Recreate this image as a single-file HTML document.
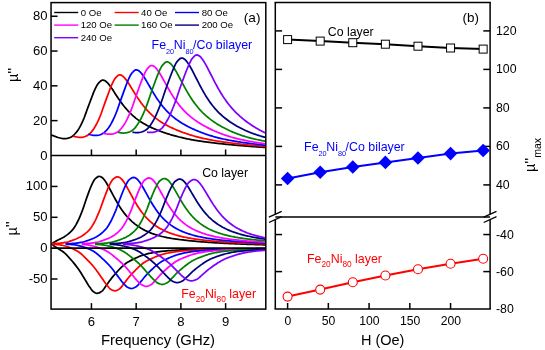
<!DOCTYPE html>
<html><head><meta charset="utf-8"><title>Figure</title>
<style>html,body{margin:0;padding:0;background:#fff;}svg{display:block;will-change:transform;}</style>
</head><body>
<svg width="545" height="350" viewBox="0 0 545 350" font-family="'Liberation Sans', Arial, Helvetica, sans-serif">
<rect x="0" y="0" width="545" height="350" fill="#ffffff"/>
<defs>
<clipPath id="cu"><rect x="51.05" y="2.60" width="214.75" height="152.83"/></clipPath>
<clipPath id="cl"><rect x="51.05" y="155.43" width="214.75" height="153.67"/></clipPath>
</defs>
<g clip-path="url(#cu)" fill="none" stroke-width="1.75" stroke-linejoin="round" stroke-linecap="butt">
<path d="M51.05,135.07 L52.05,135.37 L53.05,135.68 L54.05,136.03 L55.05,136.41 L56.05,136.80 L57.05,137.17 L58.05,137.49 L59.05,137.75 L60.05,138.00 L61.05,138.24 L62.05,138.46 L63.05,138.61 L64.05,138.69 L65.05,138.67 L66.05,138.56 L67.05,138.37 L68.05,138.12 L69.05,137.82 L70.05,137.48 L71.05,137.09 L72.05,136.49 L73.05,135.70 L74.05,134.77 L75.05,133.75 L76.05,132.67 L77.05,131.41 L78.05,129.95 L79.05,128.34 L80.05,126.63 L81.05,124.73 L82.05,122.65 L83.05,120.42 L84.05,118.05 L85.05,115.41 L86.05,112.61 L87.05,109.80 L88.05,107.11 L89.05,104.44 L90.05,101.78 L91.05,99.16 L92.05,96.53 L93.05,93.85 L94.05,91.30 L95.05,89.10 L96.05,87.06 L97.05,85.18 L98.05,83.66 L99.05,82.57 L100.05,81.57 L101.05,80.72 L102.05,80.17 L103.05,80.06 L104.05,80.29 L105.05,80.78 L106.05,81.49 L107.05,82.40 L108.05,83.47 L109.05,84.68 L110.05,85.99 L111.05,87.39 L112.05,88.84 L113.05,90.34 L114.05,91.87 L115.05,93.40 L116.05,94.93 L117.05,96.45 L118.05,97.95 L119.05,99.42 L120.05,100.86 L121.05,102.26 L122.05,103.62 L123.05,104.94 L124.05,106.22 L125.05,107.46 L126.05,108.65 L127.05,109.80 L128.05,110.91 L129.05,111.97 L130.05,113.00 L131.05,113.98 L132.05,114.93 L133.05,115.83 L134.05,116.70 L135.05,117.54 L136.05,118.35 L137.05,119.12 L138.05,119.86 L139.05,120.57 L140.05,121.26 L141.05,121.92 L142.05,122.55 L143.05,123.17 L144.05,123.76 L145.05,124.33 L146.05,124.88 L147.05,125.41 L148.05,125.93 L149.05,126.43 L150.05,126.91 L151.05,127.38 L152.05,127.84 L153.05,128.29 L154.05,128.72 L155.05,129.14 L156.05,129.55 L157.05,129.96 L158.05,130.35 L159.05,130.74 L160.05,131.11 L161.05,131.48 L162.05,131.84 L163.05,132.20 L164.05,132.55 L165.05,132.89 L166.05,133.22 L167.05,133.55 L168.05,133.87 L169.05,134.18 L170.05,134.49 L171.05,134.79 L172.05,135.09 L173.05,135.38 L174.05,135.66 L175.05,135.94 L176.05,136.21 L177.05,136.47 L178.05,136.73 L179.05,136.99 L180.05,137.23 L181.05,137.47 L182.05,137.71 L183.05,137.94 L184.05,138.16 L185.05,138.38 L186.05,138.59 L187.05,138.80 L188.05,139.00 L189.05,139.20 L190.05,139.39 L191.05,139.58 L192.05,139.77 L193.05,139.94 L194.05,140.12 L195.05,140.29 L196.05,140.46 L197.05,140.62 L198.05,140.78 L199.05,140.94 L200.05,141.09 L201.05,141.24 L202.05,141.39 L203.05,141.53 L204.05,141.67 L205.05,141.81 L206.05,141.95 L207.05,142.08 L208.05,142.21 L209.05,142.34 L210.05,142.47 L211.05,142.59 L212.05,142.72 L213.05,142.84 L214.05,142.96 L215.05,143.07 L216.05,143.19 L217.05,143.30 L218.05,143.42 L219.05,143.53 L220.05,143.64 L221.05,143.74 L222.05,143.85 L223.05,143.96 L224.05,144.06 L225.05,144.16 L226.05,144.26 L227.05,144.36 L228.05,144.46 L229.05,144.56 L230.05,144.66 L231.05,144.75 L232.05,144.84 L233.05,144.94 L234.05,145.03 L235.05,145.12 L236.05,145.21 L237.05,145.30 L238.05,145.39 L239.05,145.47 L240.05,145.56 L241.05,145.64 L242.05,145.73 L243.05,145.81 L244.05,145.89 L245.05,145.97 L246.05,146.05 L247.05,146.13 L248.05,146.21 L249.05,146.29 L250.05,146.36 L251.05,146.44 L252.05,146.52 L253.05,146.59 L254.05,146.66 L255.05,146.74 L256.05,146.81 L257.05,146.88 L258.05,146.95 L259.05,147.02 L260.05,147.09 L261.05,147.16 L262.05,147.23 L263.05,147.29 L264.05,147.36 L265.05,147.43 L266.05,147.49" stroke="#000000"/>
<path d="M73.00,135.97 L74.00,136.30 L75.00,136.58 L76.00,136.80 L77.00,137.00 L78.00,137.18 L79.00,137.32 L80.00,137.40 L81.00,137.40 L82.00,137.31 L83.00,137.13 L84.00,136.88 L85.00,136.54 L86.00,136.12 L87.00,135.64 L88.00,135.08 L89.00,134.32 L90.00,133.38 L91.00,132.31 L92.00,131.14 L93.00,129.89 L94.00,128.45 L95.00,126.82 L96.00,125.04 L97.00,123.17 L98.00,121.13 L99.00,118.89 L100.00,116.51 L101.00,113.99 L102.00,111.22 L103.00,108.32 L104.00,105.44 L105.00,102.66 L106.00,99.91 L107.00,97.17 L108.00,94.47 L109.00,91.77 L110.00,89.04 L111.00,86.46 L112.00,84.18 L113.00,82.06 L114.00,80.12 L115.00,78.56 L116.00,77.44 L117.00,76.40 L118.00,75.53 L119.00,74.96 L120.00,74.86 L121.00,75.10 L122.00,75.60 L123.00,76.33 L124.00,77.27 L125.00,78.38 L126.00,79.63 L127.00,81.00 L128.00,82.47 L129.00,84.00 L130.00,85.59 L131.00,87.20 L132.00,88.84 L133.00,90.47 L134.00,92.10 L135.00,93.71 L136.00,95.29 L137.00,96.85 L138.00,98.37 L139.00,99.85 L140.00,101.28 L141.00,102.67 L142.00,104.02 L143.00,105.32 L144.00,106.58 L145.00,107.79 L146.00,108.96 L147.00,110.08 L148.00,111.16 L149.00,112.19 L150.00,113.19 L151.00,114.15 L152.00,115.07 L153.00,115.96 L154.00,116.81 L155.00,117.62 L156.00,118.41 L157.00,119.17 L158.00,119.90 L159.00,120.60 L160.00,121.28 L161.00,121.93 L162.00,122.56 L163.00,123.17 L164.00,123.76 L165.00,124.34 L166.00,124.89 L167.00,125.43 L168.00,125.95 L169.00,126.46 L170.00,126.96 L171.00,127.44 L172.00,127.91 L173.00,128.37 L174.00,128.82 L175.00,129.26 L176.00,129.69 L177.00,130.11 L178.00,130.52 L179.00,130.92 L180.00,131.31 L181.00,131.70 L182.00,132.08 L183.00,132.45 L184.00,132.81 L185.00,133.16 L186.00,133.51 L187.00,133.85 L188.00,134.18 L189.00,134.51 L190.00,134.82 L191.00,135.13 L192.00,135.44 L193.00,135.73 L194.00,136.02 L195.00,136.30 L196.00,136.58 L197.00,136.85 L198.00,137.11 L199.00,137.36 L200.00,137.61 L201.00,137.85 L202.00,138.09 L203.00,138.32 L204.00,138.54 L205.00,138.76 L206.00,138.97 L207.00,139.18 L208.00,139.38 L209.00,139.58 L210.00,139.77 L211.00,139.96 L212.00,140.14 L213.00,140.32 L214.00,140.50 L215.00,140.67 L216.00,140.84 L217.00,141.00 L218.00,141.16 L219.00,141.32 L220.00,141.47 L221.00,141.62 L222.00,141.77 L223.00,141.92 L224.00,142.06 L225.00,142.20 L226.00,142.34 L227.00,142.48 L228.00,142.61 L229.00,142.74 L230.00,142.87 L231.00,143.00 L232.00,143.12 L233.00,143.25 L234.00,143.37 L235.00,143.49 L236.00,143.60 L237.00,143.72 L238.00,143.84 L239.00,143.95 L240.00,144.06 L241.00,144.17 L242.00,144.28 L243.00,144.38 L244.00,144.49 L245.00,144.59 L246.00,144.70 L247.00,144.80 L248.00,144.90 L249.00,145.00 L250.00,145.09 L251.00,145.19 L252.00,145.29 L253.00,145.38 L254.00,145.47 L255.00,145.56 L256.00,145.65 L257.00,145.74 L258.00,145.83 L259.00,145.92 L260.00,146.00 L261.00,146.09 L262.00,146.17 L263.00,146.26 L264.00,146.34 L265.00,146.42 L266.00,146.50" stroke="#ff0000"/>
<path d="M88.40,134.16 L89.40,134.47 L90.40,134.76 L91.40,135.00 L92.40,135.17 L93.40,135.31 L94.40,135.41 L95.40,135.47 L96.40,135.47 L97.40,135.40 L98.40,135.24 L99.40,135.00 L100.40,134.69 L101.40,134.27 L102.40,133.74 L103.40,133.11 L104.40,132.39 L105.40,131.48 L106.40,130.40 L107.40,129.21 L108.40,127.91 L109.40,126.51 L110.40,124.93 L111.40,123.16 L112.40,121.24 L113.40,119.24 L114.40,117.10 L115.40,114.76 L116.40,112.27 L117.40,109.65 L118.40,106.82 L119.40,103.88 L120.40,100.96 L121.40,98.15 L122.40,95.36 L123.40,92.59 L124.40,89.86 L125.40,87.15 L126.40,84.43 L127.40,81.84 L128.40,79.50 L129.40,77.31 L130.40,75.32 L131.40,73.71 L132.40,72.55 L133.40,71.48 L134.40,70.57 L135.40,69.96 L136.40,69.82 L137.40,70.04 L138.40,70.53 L139.40,71.27 L140.40,72.22 L141.40,73.35 L142.40,74.64 L143.40,76.07 L144.40,77.60 L145.40,79.21 L146.40,80.87 L147.40,82.58 L148.40,84.32 L149.40,86.06 L150.40,87.79 L151.40,89.52 L152.40,91.22 L153.40,92.89 L154.40,94.52 L155.40,96.12 L156.40,97.67 L157.40,99.17 L158.40,100.63 L159.40,102.04 L160.40,103.41 L161.40,104.72 L162.40,105.99 L163.40,107.21 L164.40,108.38 L165.40,109.51 L166.40,110.60 L167.40,111.64 L168.40,112.64 L169.40,113.61 L170.40,114.54 L171.40,115.43 L172.40,116.29 L173.40,117.12 L174.40,117.92 L175.40,118.69 L176.40,119.43 L177.40,120.14 L178.40,120.84 L179.40,121.51 L180.40,122.16 L181.40,122.78 L182.40,123.39 L183.40,123.99 L184.40,124.56 L185.40,125.12 L186.40,125.67 L187.40,126.20 L188.40,126.72 L189.40,127.22 L190.40,127.72 L191.40,128.20 L192.40,128.68 L193.40,129.14 L194.40,129.59 L195.40,130.03 L196.40,130.47 L197.40,130.89 L198.40,131.31 L199.40,131.71 L200.40,132.11 L201.40,132.50 L202.40,132.88 L203.40,133.25 L204.40,133.61 L205.40,133.97 L206.40,134.31 L207.40,134.65 L208.40,134.98 L209.40,135.30 L210.40,135.61 L211.40,135.92 L212.40,136.21 L213.40,136.50 L214.40,136.79 L215.40,137.06 L216.40,137.33 L217.40,137.59 L218.40,137.84 L219.40,138.09 L220.40,138.33 L221.40,138.56 L222.40,138.79 L223.40,139.01 L224.40,139.23 L225.40,139.44 L226.40,139.65 L227.40,139.85 L228.40,140.04 L229.40,140.24 L230.40,140.42 L231.40,140.61 L232.40,140.79 L233.40,140.96 L234.40,141.14 L235.40,141.30 L236.40,141.47 L237.40,141.63 L238.40,141.79 L239.40,141.95 L240.40,142.10 L241.40,142.25 L242.40,142.40 L243.40,142.55 L244.40,142.69 L245.40,142.83 L246.40,142.97 L247.40,143.10 L248.40,143.24 L249.40,143.37 L250.40,143.50 L251.40,143.63 L252.40,143.75 L253.40,143.87 L254.40,144.00 L255.40,144.12 L256.40,144.24 L257.40,144.35 L258.40,144.47 L259.40,144.58 L260.40,144.69 L261.40,144.80 L262.40,144.91 L263.40,145.02 L264.40,145.12 L265.40,145.23" stroke="#0000ff"/>
<path d="M103.00,133.09 L104.00,133.36 L105.00,133.61 L106.00,133.83 L107.00,134.01 L108.00,134.11 L109.00,134.17 L110.00,134.18 L111.00,134.14 L112.00,134.03 L113.00,133.85 L114.00,133.59 L115.00,133.26 L116.00,132.87 L117.00,132.33 L118.00,131.64 L119.00,130.83 L120.00,129.89 L121.00,128.78 L122.00,127.52 L123.00,126.18 L124.00,124.71 L125.00,123.12 L126.00,121.33 L127.00,119.37 L128.00,117.29 L129.00,115.13 L130.00,112.84 L131.00,110.36 L132.00,107.73 L133.00,104.98 L134.00,102.06 L135.00,99.09 L136.00,96.19 L137.00,93.38 L138.00,90.57 L139.00,87.79 L140.00,85.06 L141.00,82.35 L142.00,79.68 L143.00,77.16 L144.00,74.83 L145.00,72.63 L146.00,70.67 L147.00,69.17 L148.00,68.03 L149.00,66.96 L150.00,66.09 L151.00,65.56 L152.00,65.50 L153.00,65.79 L154.00,66.34 L155.00,67.13 L156.00,68.14 L157.00,69.34 L158.00,70.70 L159.00,72.19 L160.00,73.79 L161.00,75.47 L162.00,77.21 L163.00,78.99 L164.00,80.80 L165.00,82.62 L166.00,84.43 L167.00,86.23 L168.00,88.01 L169.00,89.76 L170.00,91.47 L171.00,93.15 L172.00,94.78 L173.00,96.36 L174.00,97.90 L175.00,99.38 L176.00,100.82 L177.00,102.21 L178.00,103.55 L179.00,104.84 L180.00,106.08 L181.00,107.28 L182.00,108.43 L183.00,109.54 L184.00,110.61 L185.00,111.64 L186.00,112.63 L187.00,113.59 L188.00,114.51 L189.00,115.39 L190.00,116.25 L191.00,117.07 L192.00,117.87 L193.00,118.64 L194.00,119.38 L195.00,120.11 L196.00,120.81 L197.00,121.49 L198.00,122.15 L199.00,122.79 L200.00,123.41 L201.00,124.02 L202.00,124.61 L203.00,125.19 L204.00,125.76 L205.00,126.31 L206.00,126.85 L207.00,127.37 L208.00,127.89 L209.00,128.39 L210.00,128.88 L211.00,129.37 L212.00,129.84 L213.00,130.30 L214.00,130.75 L215.00,131.19 L216.00,131.63 L217.00,132.05 L218.00,132.46 L219.00,132.86 L220.00,133.26 L221.00,133.64 L222.00,134.01 L223.00,134.38 L224.00,134.74 L225.00,135.08 L226.00,135.42 L227.00,135.75 L228.00,136.07 L229.00,136.38 L230.00,136.69 L231.00,136.98 L232.00,137.27 L233.00,137.55 L234.00,137.82 L235.00,138.09 L236.00,138.35 L237.00,138.60 L238.00,138.84 L239.00,139.08 L240.00,139.32 L241.00,139.54 L242.00,139.77 L243.00,139.98 L244.00,140.20 L245.00,140.40 L246.00,140.60 L247.00,140.80 L248.00,141.00 L249.00,141.18 L250.00,141.37 L251.00,141.55 L252.00,141.73 L253.00,141.90 L254.00,142.08 L255.00,142.24 L256.00,142.41 L257.00,142.57 L258.00,142.73 L259.00,142.88 L260.00,143.04 L261.00,143.19 L262.00,143.34 L263.00,143.48 L264.00,143.62 L265.00,143.76 L266.00,143.90" stroke="#ff00ff"/>
<path d="M117.80,132.24 L118.80,132.44 L119.80,132.64 L120.80,132.82 L121.80,132.96 L122.80,133.04 L123.80,133.04 L124.80,132.99 L125.80,132.87 L126.80,132.69 L127.80,132.45 L128.80,132.13 L129.80,131.75 L130.80,131.32 L131.80,130.79 L132.80,130.04 L133.80,129.13 L134.80,128.08 L135.80,126.86 L136.80,125.51 L137.80,124.08 L138.80,122.55 L139.80,120.86 L140.80,119.00 L141.80,116.97 L142.80,114.81 L143.80,112.57 L144.80,110.25 L145.80,107.77 L146.80,105.12 L147.80,102.35 L148.80,99.46 L149.80,96.50 L150.80,93.58 L151.80,90.77 L152.80,87.99 L153.80,85.21 L154.80,82.48 L155.80,79.80 L156.80,77.16 L157.80,74.65 L158.80,72.25 L159.80,69.98 L160.80,67.88 L161.80,66.16 L162.80,64.92 L163.80,63.80 L164.80,62.81 L165.80,62.11 L166.80,61.82 L167.80,61.97 L168.80,62.38 L169.80,63.04 L170.80,63.93 L171.80,65.02 L172.80,66.30 L173.80,67.72 L174.80,69.28 L175.80,70.94 L176.80,72.69 L177.80,74.50 L178.80,76.35 L179.80,78.23 L180.80,80.12 L181.80,82.01 L182.80,83.90 L183.80,85.76 L184.80,87.59 L185.80,89.39 L186.80,91.15 L187.80,92.86 L188.80,94.53 L189.80,96.15 L190.80,97.72 L191.80,99.24 L192.80,100.71 L193.80,102.12 L194.80,103.49 L195.80,104.81 L196.80,106.08 L197.80,107.30 L198.80,108.47 L199.80,109.61 L200.80,110.70 L201.80,111.74 L202.80,112.76 L203.80,113.73 L204.80,114.67 L205.80,115.57 L206.80,116.45 L207.80,117.29 L208.80,118.10 L209.80,118.89 L210.80,119.65 L211.80,120.39 L212.80,121.11 L213.80,121.80 L214.80,122.48 L215.80,123.14 L216.80,123.77 L217.80,124.40 L218.80,125.00 L219.80,125.59 L220.80,126.17 L221.80,126.73 L222.80,127.28 L223.80,127.81 L224.80,128.33 L225.80,128.84 L226.80,129.34 L227.80,129.83 L228.80,130.30 L229.80,130.76 L230.80,131.21 L231.80,131.66 L232.80,132.08 L233.80,132.50 L234.80,132.91 L235.80,133.31 L236.80,133.69 L237.80,134.07 L238.80,134.44 L239.80,134.79 L240.80,135.14 L241.80,135.48 L242.80,135.80 L243.80,136.12 L244.80,136.43 L245.80,136.73 L246.80,137.02 L247.80,137.30 L248.80,137.58 L249.80,137.84 L250.80,138.10 L251.80,138.36 L252.80,138.60 L253.80,138.84 L254.80,139.07 L255.80,139.30 L256.80,139.52 L257.80,139.74 L258.80,139.95 L259.80,140.15 L260.80,140.35 L261.80,140.55 L262.80,140.74 L263.80,140.92 L264.80,141.11 L265.80,141.29" stroke="#008000"/>
<path d="M132.50,132.22 L133.50,132.36 L134.50,132.50 L135.50,132.61 L136.50,132.69 L137.50,132.71 L138.50,132.63 L139.50,132.48 L140.50,132.26 L141.50,131.98 L142.50,131.62 L143.50,131.21 L144.50,130.74 L145.50,130.23 L146.50,129.61 L147.50,128.74 L148.50,127.65 L149.50,126.39 L150.50,124.98 L151.50,123.45 L152.50,121.86 L153.50,120.19 L154.50,118.32 L155.50,116.28 L156.50,114.07 L157.50,111.75 L158.50,109.35 L159.50,106.91 L160.50,104.32 L161.50,101.55 L162.50,98.68 L163.50,95.72 L164.50,92.73 L165.50,89.81 L166.50,87.01 L167.50,84.22 L168.50,81.44 L169.50,78.71 L170.50,76.04 L171.50,73.44 L172.50,70.99 L173.50,68.60 L174.50,66.28 L175.50,64.15 L176.50,62.41 L177.50,61.17 L178.50,60.03 L179.50,59.03 L180.50,58.30 L181.50,58.02 L182.50,58.14 L183.50,58.54 L184.50,59.20 L185.50,60.09 L186.50,61.19 L187.50,62.48 L188.50,63.93 L189.50,65.52 L190.50,67.23 L191.50,69.03 L192.50,70.90 L193.50,72.83 L194.50,74.79 L195.50,76.77 L196.50,78.75 L197.50,80.73 L198.50,82.69 L199.50,84.62 L200.50,86.52 L201.50,88.38 L202.50,90.20 L203.50,91.97 L204.50,93.68 L205.50,95.35 L206.50,96.96 L207.50,98.52 L208.50,100.02 L209.50,101.47 L210.50,102.87 L211.50,104.21 L212.50,105.51 L213.50,106.75 L214.50,107.95 L215.50,109.11 L216.50,110.22 L217.50,111.28 L218.50,112.31 L219.50,113.30 L220.50,114.25 L221.50,115.17 L222.50,116.06 L223.50,116.92 L224.50,117.74 L225.50,118.54 L226.50,119.31 L227.50,120.06 L228.50,120.79 L229.50,121.49 L230.50,122.18 L231.50,122.84 L232.50,123.49 L233.50,124.11 L234.50,124.72 L235.50,125.32 L236.50,125.90 L237.50,126.46 L238.50,127.01 L239.50,127.55 L240.50,128.07 L241.50,128.58 L242.50,129.08 L243.50,129.56 L244.50,130.03 L245.50,130.49 L246.50,130.94 L247.50,131.38 L248.50,131.80 L249.50,132.21 L250.50,132.61 L251.50,133.00 L252.50,133.38 L253.50,133.74 L254.50,134.10 L255.50,134.44 L256.50,134.78 L257.50,135.10 L258.50,135.42 L259.50,135.72 L260.50,136.02 L261.50,136.30 L262.50,136.58 L263.50,136.85 L264.50,137.11 L265.50,137.37" stroke="#000080"/>
<path d="M147.00,132.19 L148.00,132.28 L149.00,132.36 L150.00,132.41 L151.00,132.45 L152.00,132.44 L153.00,132.35 L154.00,132.16 L155.00,131.87 L156.00,131.51 L157.00,131.08 L158.00,130.60 L159.00,130.06 L160.00,129.49 L161.00,128.88 L162.00,128.07 L163.00,126.96 L164.00,125.61 L165.00,124.09 L166.00,122.43 L167.00,120.71 L168.00,118.96 L169.00,117.06 L170.00,114.95 L171.00,112.67 L172.00,110.26 L173.00,107.76 L174.00,105.22 L175.00,102.64 L176.00,99.88 L177.00,96.98 L178.00,94.00 L179.00,91.00 L180.00,88.05 L181.00,85.22 L182.00,82.47 L183.00,79.72 L184.00,76.99 L185.00,74.31 L186.00,71.72 L187.00,69.27 L188.00,66.94 L189.00,64.57 L190.00,62.29 L191.00,60.30 L192.00,58.79 L193.00,57.62 L194.00,56.51 L195.00,55.59 L196.00,55.02 L197.00,54.90 L198.00,55.16 L199.00,55.69 L200.00,56.48 L201.00,57.49 L202.00,58.71 L203.00,60.11 L204.00,61.66 L205.00,63.33 L206.00,65.10 L207.00,66.95 L208.00,68.86 L209.00,70.80 L210.00,72.77 L211.00,74.75 L212.00,76.73 L213.00,78.70 L214.00,80.64 L215.00,82.56 L216.00,84.44 L217.00,86.29 L218.00,88.09 L219.00,89.84 L220.00,91.55 L221.00,93.21 L222.00,94.82 L223.00,96.38 L224.00,97.89 L225.00,99.35 L226.00,100.77 L227.00,102.13 L228.00,103.45 L229.00,104.73 L230.00,105.97 L231.00,107.16 L232.00,108.31 L233.00,109.43 L234.00,110.51 L235.00,111.55 L236.00,112.56 L237.00,113.54 L238.00,114.49 L239.00,115.41 L240.00,116.31 L241.00,117.18 L242.00,118.03 L243.00,118.85 L244.00,119.65 L245.00,120.44 L246.00,121.20 L247.00,121.94 L248.00,122.67 L249.00,123.38 L250.00,124.07 L251.00,124.75 L252.00,125.41 L253.00,126.06 L254.00,126.69 L255.00,127.31 L256.00,127.91 L257.00,128.50 L258.00,129.07 L259.00,129.64 L260.00,130.19 L261.00,130.72 L262.00,131.24 L263.00,131.75 L264.00,132.25 L265.00,132.73 L266.00,133.20" stroke="#8000ff"/>
</g>
<g clip-path="url(#cl)" fill="none" stroke-width="1.75" stroke-linejoin="round">
<path d="M51.05,244.21 L52.05,243.78 L53.05,243.00 L54.05,242.32 L55.05,241.69 L56.05,241.12 L57.05,240.58 L58.05,240.07 L59.05,239.58 L60.05,239.09 L61.05,238.59 L62.05,238.07 L63.05,237.52 L64.05,236.94 L65.05,236.31 L66.05,235.64 L67.05,234.91 L68.05,234.13 L69.05,233.28 L70.05,232.37 L71.05,231.38 L72.05,230.32 L73.05,229.18 L74.05,227.89 L75.05,226.34 L76.05,224.60 L77.05,222.72 L78.05,220.76 L79.05,218.64 L80.05,216.33 L81.05,213.88 L82.05,211.33 L83.05,208.66 L84.05,205.76 L85.05,202.73 L86.05,199.72 L87.05,196.87 L88.05,194.10 L89.05,191.35 L90.05,188.72 L91.05,186.30 L92.05,184.14 L93.05,182.06 L94.05,180.22 L95.05,178.91 L96.05,178.04 L97.05,177.27 L98.05,176.70 L99.05,176.43 L100.05,176.50 L101.05,176.87 L102.05,177.52 L103.05,178.42 L104.05,179.54 L105.05,180.87 L106.05,182.36 L107.05,183.98 L108.05,185.71 L109.05,187.52 L110.05,189.38 L111.05,191.27 L112.05,193.17 L113.05,195.05 L114.05,196.92 L115.05,198.76 L116.05,200.55 L117.05,202.29 L118.05,203.98 L119.05,205.62 L120.05,207.19 L121.05,208.70 L122.05,210.15 L123.05,211.54 L124.05,212.87 L125.05,214.14 L126.05,215.35 L127.05,216.51 L128.05,217.62 L129.05,218.68 L130.05,219.69 L131.05,220.65 L132.05,221.57 L133.05,222.45 L134.05,223.28 L135.05,224.09 L136.05,224.85 L137.05,225.58 L138.05,226.28 L139.05,226.95 L140.05,227.59 L141.05,228.21 L142.05,228.79 L143.05,229.36 L144.05,229.89 L145.05,230.41 L146.05,230.91 L147.05,231.38 L148.05,231.84 L149.05,232.27 L150.05,232.69 L151.05,233.09 L152.05,233.47 L153.05,233.84 L154.05,234.19 L155.05,234.53 L156.05,234.85 L157.05,235.16 L158.05,235.46 L159.05,235.74 L160.05,236.01 L161.05,236.27 L162.05,236.52 L163.05,236.75 L164.05,236.98 L165.05,237.20 L166.05,237.41 L167.05,237.61 L168.05,237.80 L169.05,237.98 L170.05,238.16 L171.05,238.33 L172.05,238.49 L173.05,238.65 L174.05,238.80 L175.05,238.95 L176.05,239.10 L177.05,239.23 L178.05,239.37 L179.05,239.50 L180.05,239.63 L181.05,239.75 L182.05,239.87 L183.05,239.99 L184.05,240.11 L185.05,240.22 L186.05,240.33 L187.05,240.44 L188.05,240.55 L189.05,240.65 L190.05,240.76 L191.05,240.86 L192.05,240.96 L193.05,241.05 L194.05,241.15 L195.05,241.24 L196.05,241.33 L197.05,241.42 L198.05,241.51 L199.05,241.59 L200.05,241.68 L201.05,241.76 L202.05,241.84 L203.05,241.92 L204.05,242.00 L205.05,242.08 L206.05,242.15 L207.05,242.22 L208.05,242.30 L209.05,242.37 L210.05,242.44 L211.05,242.50 L212.05,242.57 L213.05,242.64 L214.05,242.70 L215.05,242.76 L216.05,242.82 L217.05,242.88 L218.05,242.94 L219.05,243.00 L220.05,243.06 L221.05,243.11 L222.05,243.17 L223.05,243.22 L224.05,243.27 L225.05,243.32 L226.05,243.38 L227.05,243.43 L228.05,243.47 L229.05,243.52 L230.05,243.57 L231.05,243.62 L232.05,243.66 L233.05,243.71 L234.05,243.75 L235.05,243.79 L236.05,243.84 L237.05,243.88 L238.05,243.92 L239.05,243.96 L240.05,244.00 L241.05,244.04 L242.05,244.08 L243.05,244.12 L244.05,244.15 L245.05,244.19 L246.05,244.23 L247.05,244.26 L248.05,244.30 L249.05,244.33 L250.05,244.37 L251.05,244.40 L252.05,244.43 L253.05,244.46 L254.05,244.50 L255.05,244.53 L256.05,244.56 L257.05,244.59 L258.05,244.62 L259.05,244.65 L260.05,244.68 L261.05,244.71 L262.05,244.74 L263.05,244.77 L264.05,244.79 L265.05,244.82 L266.05,244.85" stroke="#000000"/>
<path d="M51.05,243.82 L52.05,244.32 L53.05,245.17 L54.05,245.94 L55.05,246.64 L56.05,247.29 L57.05,247.92 L58.05,248.53 L59.05,249.13 L60.05,249.75 L61.05,250.40 L62.05,251.07 L63.05,251.79 L64.05,252.56 L65.05,253.42 L66.05,254.37 L67.05,255.39 L68.05,256.48 L69.05,257.60 L70.05,258.74 L71.05,259.88 L72.05,261.02 L73.05,262.19 L74.05,263.39 L75.05,264.62 L76.05,265.89 L77.05,267.20 L78.05,268.56 L79.05,269.98 L80.05,271.49 L81.05,273.08 L82.05,274.72 L83.05,276.38 L84.05,278.03 L85.05,279.65 L86.05,281.29 L87.05,282.97 L88.05,284.61 L89.05,286.18 L90.05,287.61 L91.05,289.02 L92.05,290.35 L93.05,291.41 L94.05,292.11 L95.05,292.71 L96.05,293.15 L97.05,293.33 L98.05,293.22 L99.05,292.88 L100.05,292.38 L101.05,291.78 L102.05,291.10 L103.05,290.06 L104.05,288.73 L105.05,287.27 L106.05,285.86 L107.05,284.49 L108.05,283.06 L109.05,281.62 L110.05,280.20 L111.05,278.86 L112.05,277.60 L113.05,276.39 L114.05,275.23 L115.05,274.09 L116.05,272.96 L117.05,271.85 L118.05,270.76 L119.05,269.69 L120.05,268.66 L121.05,267.69 L122.05,266.73 L123.05,265.79 L124.05,264.89 L125.05,264.05 L126.05,263.28 L127.05,262.61 L128.05,261.99 L129.05,261.42 L130.05,260.89 L131.05,260.38 L132.05,259.89 L133.05,259.39 L134.05,258.90 L135.05,258.40 L136.05,257.92 L137.05,257.44 L138.05,256.99 L139.05,256.55 L140.05,256.15 L141.05,255.79 L142.05,255.45 L143.05,255.12 L144.05,254.81 L145.05,254.51 L146.05,254.22 L147.05,253.95 L148.05,253.69 L149.05,253.45 L150.05,253.23 L151.05,253.02 L152.05,252.83 L153.05,252.64 L154.05,252.46 L155.05,252.29 L156.05,252.12 L157.05,251.97 L158.05,251.82 L159.05,251.68 L160.05,251.55 L161.05,251.43 L162.05,251.32 L163.05,251.21 L164.05,251.11 L165.05,251.01 L166.05,250.91 L167.05,250.82 L168.05,250.74 L169.05,250.66 L170.05,250.58 L171.05,250.51 L172.05,250.44 L173.05,250.37 L174.05,250.31 L175.05,250.25 L176.05,250.20 L177.05,250.14 L178.05,250.09 L179.05,250.04 L180.05,249.99 L181.05,249.94 L182.05,249.90 L183.05,249.86 L184.05,249.82 L185.05,249.78 L186.05,249.74 L187.05,249.71 L188.05,249.67 L189.05,249.64 L190.05,249.61 L191.05,249.58 L192.05,249.55 L193.05,249.52 L194.05,249.49 L195.05,249.46 L196.05,249.44 L197.05,249.41 L198.05,249.39 L199.05,249.37 L200.05,249.34 L201.05,249.32 L202.05,249.30 L203.05,249.29 L204.05,249.27 L205.05,249.25 L206.05,249.24 L207.05,249.23 L208.05,249.21 L209.05,249.20 L210.05,249.18 L211.05,249.17 L212.05,249.16 L213.05,249.14 L214.05,249.13 L215.05,249.12 L216.05,249.10 L217.05,249.09 L218.05,249.08 L219.05,249.07 L220.05,249.05 L221.05,249.04 L222.05,249.03 L223.05,249.02 L224.05,249.01 L225.05,249.00 L226.05,248.99 L227.05,248.98 L228.05,248.96 L229.05,248.95 L230.05,248.94 L231.05,248.93 L232.05,248.92 L233.05,248.91 L234.05,248.90 L235.05,248.90 L236.05,248.89 L237.05,248.88 L238.05,248.87 L239.05,248.86 L240.05,248.85 L241.05,248.84 L242.05,248.84 L243.05,248.83 L244.05,248.82 L245.05,248.81 L246.05,248.81 L247.05,248.80 L248.05,248.79 L249.05,248.79 L250.05,248.78 L251.05,248.77 L252.05,248.77 L253.05,248.76 L254.05,248.76 L255.05,248.75 L256.05,248.75 L257.05,248.74 L258.05,248.74 L259.05,248.73 L260.05,248.73 L261.05,248.72 L262.05,248.72 L263.05,248.72 L264.05,248.71 L265.05,248.71 L266.05,248.71" stroke="#000000"/>
<path d="M51.05,243.75 L52.05,243.71 L53.05,243.67 L54.05,243.62 L55.05,243.57 L56.05,243.51 L57.05,243.45 L58.05,243.38 L59.05,243.29 L60.05,243.20 L61.05,243.08 L62.05,242.95 L63.05,242.80 L64.05,242.63 L65.05,242.45 L66.05,242.26 L67.05,242.04 L68.05,241.79 L69.05,241.50 L70.05,241.18 L71.05,240.84 L72.05,240.48 L73.05,240.11 L74.05,239.74 L75.05,239.35 L76.05,238.95 L77.05,238.52 L78.05,238.07 L79.05,237.58 L80.05,237.06 L81.05,236.49 L82.05,235.88 L83.05,235.22 L84.05,234.51 L85.05,233.74 L86.05,232.92 L87.05,232.03 L88.05,231.07 L89.05,230.05 L90.05,228.95 L91.05,227.67 L92.05,226.17 L93.05,224.50 L94.05,222.72 L95.05,220.87 L96.05,218.86 L97.05,216.69 L98.05,214.39 L99.05,211.99 L100.05,209.51 L101.05,206.82 L102.05,203.98 L103.05,201.12 L104.05,198.35 L105.05,195.74 L106.05,193.12 L107.05,190.57 L108.05,188.15 L109.05,185.95 L110.05,183.95 L111.05,182.02 L112.05,180.35 L113.05,179.21 L114.05,178.40 L115.05,177.68 L116.05,177.14 L117.05,176.87 L118.05,176.91 L119.05,177.22 L120.05,177.81 L121.05,178.63 L122.05,179.67 L123.05,180.91 L124.05,182.32 L125.05,183.87 L126.05,185.53 L127.05,187.27 L128.05,189.08 L129.05,190.92 L130.05,192.78 L131.05,194.65 L132.05,196.50 L133.05,198.32 L134.05,200.11 L135.05,201.85 L136.05,203.55 L137.05,205.19 L138.05,206.77 L139.05,208.30 L140.05,209.76 L141.05,211.17 L142.05,212.52 L143.05,213.80 L144.05,215.03 L145.05,216.21 L146.05,217.33 L147.05,218.40 L148.05,219.41 L149.05,220.39 L150.05,221.31 L151.05,222.19 L152.05,223.03 L153.05,223.84 L154.05,224.60 L155.05,225.33 L156.05,226.03 L157.05,226.69 L158.05,227.32 L159.05,227.93 L160.05,228.51 L161.05,229.06 L162.05,229.59 L163.05,230.09 L164.05,230.57 L165.05,231.04 L166.05,231.48 L167.05,231.90 L168.05,232.31 L169.05,232.70 L170.05,233.07 L171.05,233.43 L172.05,233.78 L173.05,234.11 L174.05,234.43 L175.05,234.74 L176.05,235.03 L177.05,235.31 L178.05,235.59 L179.05,235.85 L180.05,236.10 L181.05,236.35 L182.05,236.59 L183.05,236.81 L184.05,237.03 L185.05,237.24 L186.05,237.45 L187.05,237.65 L188.05,237.84 L189.05,238.02 L190.05,238.20 L191.05,238.38 L192.05,238.54 L193.05,238.71 L194.05,238.86 L195.05,239.02 L196.05,239.16 L197.05,239.31 L198.05,239.45 L199.05,239.58 L200.05,239.71 L201.05,239.84 L202.05,239.96 L203.05,240.08 L204.05,240.20 L205.05,240.32 L206.05,240.43 L207.05,240.53 L208.05,240.64 L209.05,240.74 L210.05,240.84 L211.05,240.93 L212.05,241.03 L213.05,241.12 L214.05,241.21 L215.05,241.30 L216.05,241.38 L217.05,241.46 L218.05,241.54 L219.05,241.62 L220.05,241.70 L221.05,241.77 L222.05,241.85 L223.05,241.92 L224.05,241.99 L225.05,242.06 L226.05,242.12 L227.05,242.19 L228.05,242.25 L229.05,242.31 L230.05,242.37 L231.05,242.43 L232.05,242.49 L233.05,242.55 L234.05,242.60 L235.05,242.66 L236.05,242.71 L237.05,242.76 L238.05,242.81 L239.05,242.86 L240.05,242.91 L241.05,242.96 L242.05,243.01 L243.05,243.06 L244.05,243.10 L245.05,243.14 L246.05,243.19 L247.05,243.23 L248.05,243.27 L249.05,243.31 L250.05,243.35 L251.05,243.39 L252.05,243.43 L253.05,243.47 L254.05,243.51 L255.05,243.54 L256.05,243.58 L257.05,243.62 L258.05,243.65 L259.05,243.69 L260.05,243.72 L261.05,243.75 L262.05,243.78 L263.05,243.82 L264.05,243.85 L265.05,243.88 L266.05,243.91" stroke="#ff0000"/>
<path d="M51.05,244.21 L52.05,244.23 L53.05,244.27 L54.05,244.32 L55.05,244.39 L56.05,244.46 L57.05,244.55 L58.05,244.65 L59.05,244.75 L60.05,244.88 L61.05,245.06 L62.05,245.26 L63.05,245.49 L64.05,245.73 L65.05,245.98 L66.05,246.26 L67.05,246.57 L68.05,246.91 L69.05,247.27 L70.05,247.65 L71.05,248.04 L72.05,248.46 L73.05,248.90 L74.05,249.36 L75.05,249.86 L76.05,250.38 L77.05,250.95 L78.05,251.56 L79.05,252.22 L80.05,252.96 L81.05,253.78 L82.05,254.66 L83.05,255.59 L84.05,256.56 L85.05,257.56 L86.05,258.56 L87.05,259.56 L88.05,260.57 L89.05,261.60 L90.05,262.66 L91.05,263.74 L92.05,264.86 L93.05,266.02 L94.05,267.21 L95.05,268.44 L96.05,269.76 L97.05,271.14 L98.05,272.57 L99.05,274.02 L100.05,275.48 L101.05,276.92 L102.05,278.34 L103.05,279.80 L104.05,281.27 L105.05,282.70 L106.05,284.07 L107.05,285.33 L108.05,286.56 L109.05,287.75 L110.05,288.76 L111.05,289.44 L112.05,289.99 L113.05,290.45 L114.05,290.74 L115.05,290.79 L116.05,290.59 L117.05,290.22 L118.05,289.72 L119.05,289.14 L120.05,288.45 L121.05,287.39 L122.05,286.11 L123.05,284.75 L124.05,283.47 L125.05,282.19 L126.05,280.86 L127.05,279.53 L128.05,278.22 L129.05,276.99 L130.05,275.83 L131.05,274.72 L132.05,273.64 L133.05,272.58 L134.05,271.55 L135.05,270.52 L136.05,269.50 L137.05,268.51 L138.05,267.56 L139.05,266.65 L140.05,265.77 L141.05,264.90 L142.05,264.06 L143.05,263.27 L144.05,262.54 L145.05,261.90 L146.05,261.32 L147.05,260.78 L148.05,260.27 L149.05,259.79 L150.05,259.32 L151.05,258.86 L152.05,258.40 L153.05,257.94 L154.05,257.48 L155.05,257.04 L156.05,256.60 L157.05,256.19 L158.05,255.81 L159.05,255.45 L160.05,255.13 L161.05,254.82 L162.05,254.52 L163.05,254.23 L164.05,253.96 L165.05,253.70 L166.05,253.46 L167.05,253.23 L168.05,253.01 L169.05,252.81 L170.05,252.62 L171.05,252.45 L172.05,252.28 L173.05,252.12 L174.05,251.96 L175.05,251.82 L176.05,251.68 L177.05,251.55 L178.05,251.42 L179.05,251.30 L180.05,251.19 L181.05,251.09 L182.05,250.99 L183.05,250.90 L184.05,250.81 L185.05,250.72 L186.05,250.64 L187.05,250.56 L188.05,250.49 L189.05,250.41 L190.05,250.35 L191.05,250.28 L192.05,250.22 L193.05,250.17 L194.05,250.11 L195.05,250.06 L196.05,250.01 L197.05,249.96 L198.05,249.91 L199.05,249.87 L200.05,249.82 L201.05,249.78 L202.05,249.74 L203.05,249.70 L204.05,249.67 L205.05,249.63 L206.05,249.60 L207.05,249.57 L208.05,249.54 L209.05,249.51 L210.05,249.48 L211.05,249.45 L212.05,249.42 L213.05,249.40 L214.05,249.37 L215.05,249.35 L216.05,249.32 L217.05,249.30 L218.05,249.28 L219.05,249.26 L220.05,249.24 L221.05,249.22 L222.05,249.20 L223.05,249.18 L224.05,249.17 L225.05,249.16 L226.05,249.14 L227.05,249.13 L228.05,249.12 L229.05,249.10 L230.05,249.09 L231.05,249.08 L232.05,249.07 L233.05,249.06 L234.05,249.04 L235.05,249.03 L236.05,249.02 L237.05,249.01 L238.05,249.00 L239.05,248.99 L240.05,248.98 L241.05,248.97 L242.05,248.95 L243.05,248.94 L244.05,248.93 L245.05,248.92 L246.05,248.91 L247.05,248.90 L248.05,248.89 L249.05,248.89 L250.05,248.88 L251.05,248.87 L252.05,248.86 L253.05,248.85 L254.05,248.84 L255.05,248.83 L256.05,248.82 L257.05,248.82 L258.05,248.81 L259.05,248.80 L260.05,248.79 L261.05,248.79 L262.05,248.78 L263.05,248.77 L264.05,248.76 L265.05,248.76 L266.05,248.75" stroke="#ff0000"/>
<path d="M65.60,243.78 L66.60,243.75 L67.60,243.71 L68.60,243.67 L69.60,243.62 L70.60,243.57 L71.60,243.52 L72.60,243.45 L73.60,243.38 L74.60,243.30 L75.60,243.21 L76.60,243.09 L77.60,242.96 L78.60,242.81 L79.60,242.65 L80.60,242.47 L81.60,242.28 L82.60,242.08 L83.60,241.83 L84.60,241.55 L85.60,241.24 L86.60,240.91 L87.60,240.56 L88.60,240.20 L89.60,239.83 L90.60,239.45 L91.60,239.06 L92.60,238.64 L93.60,238.20 L94.60,237.73 L95.60,237.23 L96.60,236.68 L97.60,236.09 L98.60,235.46 L99.60,234.77 L100.60,234.03 L101.60,233.23 L102.60,232.38 L103.60,231.46 L104.60,230.47 L105.60,229.41 L106.60,228.22 L107.60,226.82 L108.60,225.23 L109.60,223.51 L110.60,221.72 L111.60,219.81 L112.60,217.74 L113.60,215.52 L114.60,213.20 L115.60,210.81 L116.60,208.26 L117.60,205.52 L118.60,202.71 L119.60,199.94 L120.60,197.32 L121.60,194.76 L122.60,192.21 L123.60,189.77 L124.60,187.50 L125.60,185.47 L126.60,183.53 L127.60,181.73 L128.60,180.32 L129.60,179.42 L130.60,178.66 L131.60,178.02 L132.60,177.60 L133.60,177.46 L134.60,177.62 L135.60,178.05 L136.60,178.72 L137.60,179.63 L138.60,180.74 L139.60,182.03 L140.60,183.47 L141.60,185.04 L142.60,186.71 L143.60,188.45 L144.60,190.25 L145.60,192.07 L146.60,193.91 L147.60,195.74 L148.60,197.56 L149.60,199.34 L150.60,201.09 L151.60,202.79 L152.60,204.44 L153.60,206.04 L154.60,207.58 L155.60,209.07 L156.60,210.49 L157.60,211.86 L158.60,213.16 L159.60,214.41 L160.60,215.61 L161.60,216.75 L162.60,217.84 L163.60,218.87 L164.60,219.86 L165.60,220.80 L166.60,221.70 L167.60,222.56 L168.60,223.38 L169.60,224.15 L170.60,224.90 L171.60,225.60 L172.60,226.28 L173.60,226.92 L174.60,227.54 L175.60,228.13 L176.60,228.69 L177.60,229.22 L178.60,229.74 L179.60,230.23 L180.60,230.70 L181.60,231.15 L182.60,231.58 L183.60,231.99 L184.60,232.38 L185.60,232.76 L186.60,233.13 L187.60,233.48 L188.60,233.81 L189.60,234.13 L190.60,234.44 L191.60,234.74 L192.60,235.03 L193.60,235.30 L194.60,235.57 L195.60,235.82 L196.60,236.07 L197.60,236.31 L198.60,236.53 L199.60,236.76 L200.60,236.97 L201.60,237.17 L202.60,237.37 L203.60,237.56 L204.60,237.75 L205.60,237.93 L206.60,238.10 L207.60,238.27 L208.60,238.43 L209.60,238.59 L210.60,238.74 L211.60,238.89 L212.60,239.03 L213.60,239.17 L214.60,239.30 L215.60,239.43 L216.60,239.56 L217.60,239.68 L218.60,239.80 L219.60,239.92 L220.60,240.03 L221.60,240.14 L222.60,240.25 L223.60,240.35 L224.60,240.45 L225.60,240.55 L226.60,240.64 L227.60,240.73 L228.60,240.82 L229.60,240.91 L230.60,240.99 L231.60,241.08 L232.60,241.16 L233.60,241.24 L234.60,241.31 L235.60,241.39 L236.60,241.46 L237.60,241.53 L238.60,241.60 L239.60,241.67 L240.60,241.73 L241.60,241.80 L242.60,241.86 L243.60,241.92 L244.60,241.98 L245.60,242.04 L246.60,242.10 L247.60,242.15 L248.60,242.21 L249.60,242.26 L250.60,242.31 L251.60,242.36 L252.60,242.41 L253.60,242.46 L254.60,242.51 L255.60,242.55 L256.60,242.60 L257.60,242.64 L258.60,242.69 L259.60,242.73 L260.60,242.77 L261.60,242.81 L262.60,242.85 L263.60,242.89 L264.60,242.93 L265.60,242.97" stroke="#0000ff"/>
<path d="M65.60,244.21 L66.60,244.23 L67.60,244.27 L68.60,244.32 L69.60,244.38 L70.60,244.45 L71.60,244.53 L72.60,244.62 L73.60,244.72 L74.60,244.84 L75.60,244.99 L76.60,245.18 L77.60,245.39 L78.60,245.61 L79.60,245.84 L80.60,246.08 L81.60,246.36 L82.60,246.66 L83.60,246.98 L84.60,247.32 L85.60,247.68 L86.60,248.06 L87.60,248.45 L88.60,248.86 L89.60,249.30 L90.60,249.76 L91.60,250.26 L92.60,250.79 L93.60,251.36 L94.60,251.99 L95.60,252.68 L96.60,253.45 L97.60,254.27 L98.60,255.13 L99.60,256.02 L100.60,256.93 L101.60,257.85 L102.60,258.77 L103.60,259.69 L104.60,260.63 L105.60,261.60 L106.60,262.59 L107.60,263.61 L108.60,264.66 L109.60,265.75 L110.60,266.87 L111.60,268.04 L112.60,269.29 L113.60,270.58 L114.60,271.91 L115.60,273.25 L116.60,274.58 L117.60,275.90 L118.60,277.20 L119.60,278.55 L120.60,279.89 L121.60,281.20 L122.60,282.43 L123.60,283.56 L124.60,284.69 L125.60,285.77 L126.60,286.66 L127.60,287.26 L128.60,287.76 L129.60,288.19 L130.60,288.46 L131.60,288.51 L132.60,288.35 L133.60,288.01 L134.60,287.56 L135.60,287.03 L136.60,286.42 L137.60,285.49 L138.60,284.33 L139.60,283.07 L140.60,281.86 L141.60,280.69 L142.60,279.46 L143.60,278.22 L144.60,277.00 L145.60,275.83 L146.60,274.73 L147.60,273.68 L148.60,272.67 L149.60,271.68 L150.60,270.71 L151.60,269.75 L152.60,268.80 L153.60,267.87 L154.60,266.97 L155.60,266.10 L156.60,265.27 L157.60,264.46 L158.60,263.66 L159.60,262.90 L160.60,262.19 L161.60,261.54 L162.60,260.96 L163.60,260.43 L164.60,259.93 L165.60,259.46 L166.60,259.01 L167.60,258.58 L168.60,258.15 L169.60,257.71 L170.60,257.28 L171.60,256.86 L172.60,256.44 L173.60,256.04 L174.60,255.66 L175.60,255.31 L176.60,254.98 L177.60,254.68 L178.60,254.39 L179.60,254.11 L180.60,253.85 L181.60,253.59 L182.60,253.35 L183.60,253.12 L184.60,252.91 L185.60,252.70 L186.60,252.52 L187.60,252.35 L188.60,252.18 L189.60,252.03 L190.60,251.88 L191.60,251.74 L192.60,251.60 L193.60,251.47 L194.60,251.35 L195.60,251.24 L196.60,251.13 L197.60,251.03 L198.60,250.93 L199.60,250.84 L200.60,250.75 L201.60,250.67 L202.60,250.59 L203.60,250.51 L204.60,250.43 L205.60,250.36 L206.60,250.30 L207.60,250.23 L208.60,250.17 L209.60,250.11 L210.60,250.06 L211.60,250.01 L212.60,249.96 L213.60,249.91 L214.60,249.86 L215.60,249.82 L216.60,249.77 L217.60,249.73 L218.60,249.69 L219.60,249.65 L220.60,249.62 L221.60,249.58 L222.60,249.55 L223.60,249.52 L224.60,249.49 L225.60,249.46 L226.60,249.43 L227.60,249.40 L228.60,249.37 L229.60,249.35 L230.60,249.32 L231.60,249.30 L232.60,249.27 L233.60,249.25 L234.60,249.23 L235.60,249.21 L236.60,249.19 L237.60,249.17 L238.60,249.15 L239.60,249.13 L240.60,249.11 L241.60,249.10 L242.60,249.09 L243.60,249.07 L244.60,249.06 L245.60,249.05 L246.60,249.04 L247.60,249.03 L248.60,249.02 L249.60,249.00 L250.60,248.99 L251.60,248.98 L252.60,248.97 L253.60,248.96 L254.60,248.95 L255.60,248.94 L256.60,248.93 L257.60,248.92 L258.60,248.91 L259.60,248.90 L260.60,248.89 L261.60,248.88 L262.60,248.87 L263.60,248.86 L264.60,248.85 L265.60,248.84" stroke="#0000ff"/>
<path d="M81.80,243.73 L82.80,243.69 L83.80,243.65 L84.80,243.61 L85.80,243.55 L86.80,243.49 L87.80,243.43 L88.80,243.36 L89.80,243.27 L90.80,243.17 L91.80,243.05 L92.80,242.92 L93.80,242.77 L94.80,242.60 L95.80,242.43 L96.80,242.24 L97.80,242.02 L98.80,241.77 L99.80,241.49 L100.80,241.17 L101.80,240.84 L102.80,240.49 L103.80,240.14 L104.80,239.78 L105.80,239.40 L106.80,239.01 L107.80,238.60 L108.80,238.16 L109.80,237.69 L110.80,237.19 L111.80,236.64 L112.80,236.06 L113.80,235.42 L114.80,234.74 L115.80,234.01 L116.80,233.22 L117.80,232.37 L118.80,231.46 L119.80,230.48 L120.80,229.44 L121.80,228.26 L122.80,226.86 L123.80,225.29 L124.80,223.60 L125.80,221.83 L126.80,219.96 L127.80,217.92 L128.80,215.74 L129.80,213.46 L130.80,211.11 L131.80,208.61 L132.80,205.92 L133.80,203.16 L134.80,200.43 L135.80,197.85 L136.80,195.33 L137.80,192.83 L138.80,190.41 L139.80,188.16 L140.80,186.14 L141.80,184.23 L142.80,182.43 L143.80,180.97 L144.80,180.03 L145.80,179.26 L146.80,178.61 L147.80,178.15 L148.80,177.96 L149.80,178.06 L150.80,178.43 L151.80,179.04 L152.80,179.88 L153.80,180.94 L154.80,182.17 L155.80,183.56 L156.80,185.08 L157.80,186.70 L158.80,188.40 L159.80,190.16 L160.80,191.95 L161.80,193.76 L162.80,195.56 L163.80,197.36 L164.80,199.12 L165.80,200.85 L166.80,202.54 L167.80,204.19 L168.80,205.78 L169.80,207.31 L170.80,208.79 L171.80,210.21 L172.80,211.57 L173.80,212.88 L174.80,214.13 L175.80,215.32 L176.80,216.46 L177.80,217.55 L178.80,218.59 L179.80,219.58 L180.80,220.53 L181.80,221.43 L182.80,222.29 L183.80,223.11 L184.80,223.89 L185.80,224.64 L186.80,225.35 L187.80,226.03 L188.80,226.67 L189.80,227.29 L190.80,227.88 L191.80,228.45 L192.80,228.99 L193.80,229.50 L194.80,230.00 L195.80,230.47 L196.80,230.92 L197.80,231.36 L198.80,231.77 L199.80,232.17 L200.80,232.55 L201.80,232.92 L202.80,233.27 L203.80,233.61 L204.80,233.93 L205.80,234.24 L206.80,234.54 L207.80,234.83 L208.80,235.11 L209.80,235.38 L210.80,235.63 L211.80,235.88 L212.80,236.12 L213.80,236.35 L214.80,236.57 L215.80,236.79 L216.80,237.00 L217.80,237.20 L218.80,237.39 L219.80,237.58 L220.80,237.76 L221.80,237.93 L222.80,238.10 L223.80,238.26 L224.80,238.42 L225.80,238.58 L226.80,238.72 L227.80,238.87 L228.80,239.01 L229.80,239.14 L230.80,239.27 L231.80,239.40 L232.80,239.53 L233.80,239.65 L234.80,239.76 L235.80,239.87 L236.80,239.98 L237.80,240.09 L238.80,240.20 L239.80,240.30 L240.80,240.39 L241.80,240.49 L242.80,240.58 L243.80,240.67 L244.80,240.76 L245.80,240.85 L246.80,240.93 L247.80,241.01 L248.80,241.09 L249.80,241.17 L250.80,241.24 L251.80,241.32 L252.80,241.39 L253.80,241.46 L254.80,241.53 L255.80,241.59 L256.80,241.66 L257.80,241.72 L258.80,241.78 L259.80,241.84 L260.80,241.90 L261.80,241.96 L262.80,242.01 L263.80,242.07 L264.80,242.12 L265.80,242.17" stroke="#ff00ff"/>
<path d="M81.80,244.40 L82.80,244.47 L83.80,244.54 L84.80,244.63 L85.80,244.72 L86.80,244.84 L87.80,244.99 L88.80,245.16 L89.80,245.35 L90.80,245.55 L91.80,245.76 L92.80,245.98 L93.80,246.23 L94.80,246.50 L95.80,246.79 L96.80,247.10 L97.80,247.42 L98.80,247.75 L99.80,248.10 L100.80,248.46 L101.80,248.85 L102.80,249.25 L103.80,249.69 L104.80,250.15 L105.80,250.64 L106.80,251.17 L107.80,251.75 L108.80,252.39 L109.80,253.09 L110.80,253.83 L111.80,254.61 L112.80,255.41 L113.80,256.24 L114.80,257.06 L115.80,257.89 L116.80,258.72 L117.80,259.57 L118.80,260.43 L119.80,261.32 L120.80,262.23 L121.80,263.17 L122.80,264.13 L123.80,265.12 L124.80,266.15 L125.80,267.23 L126.80,268.37 L127.80,269.55 L128.80,270.75 L129.80,271.95 L130.80,273.16 L131.80,274.34 L132.80,275.52 L133.80,276.73 L134.80,277.94 L135.80,279.12 L136.80,280.25 L137.80,281.29 L138.80,282.31 L139.80,283.31 L140.80,284.19 L141.80,284.86 L142.80,285.33 L143.80,285.76 L144.80,286.10 L145.80,286.28 L146.80,286.27 L147.80,286.07 L148.80,285.72 L149.80,285.28 L150.80,284.78 L151.80,284.17 L152.80,283.26 L153.80,282.16 L154.80,280.99 L155.80,279.88 L156.80,278.79 L157.80,277.65 L158.80,276.50 L159.80,275.36 L160.80,274.28 L161.80,273.26 L162.80,272.29 L163.80,271.35 L164.80,270.43 L165.80,269.53 L166.80,268.64 L167.80,267.76 L168.80,266.89 L169.80,266.05 L170.80,265.24 L171.80,264.47 L172.80,263.71 L173.80,262.96 L174.80,262.25 L175.80,261.58 L176.80,260.96 L177.80,260.40 L178.80,259.89 L179.80,259.41 L180.80,258.96 L181.80,258.54 L182.80,258.12 L183.80,257.72 L184.80,257.32 L185.80,256.91 L186.80,256.51 L187.80,256.12 L188.80,255.74 L189.80,255.38 L190.80,255.03 L191.80,254.71 L192.80,254.42 L193.80,254.15 L194.80,253.88 L195.80,253.63 L196.80,253.39 L197.80,253.15 L198.80,252.93 L199.80,252.72 L200.80,252.53 L201.80,252.35 L202.80,252.18 L203.80,252.02 L204.80,251.87 L205.80,251.73 L206.80,251.60 L207.80,251.47 L208.80,251.35 L209.80,251.23 L210.80,251.12 L211.80,251.02 L212.80,250.92 L213.80,250.83 L214.80,250.74 L215.80,250.66 L216.80,250.58 L217.80,250.50 L218.80,250.42 L219.80,250.35 L220.80,250.28 L221.80,250.22 L222.80,250.15 L223.80,250.10 L224.80,250.04 L225.80,249.98 L226.80,249.93 L227.80,249.89 L228.80,249.84 L229.80,249.79 L230.80,249.75 L231.80,249.71 L232.80,249.67 L233.80,249.63 L234.80,249.59 L235.80,249.55 L236.80,249.52 L237.80,249.49 L238.80,249.45 L239.80,249.42 L240.80,249.39 L241.80,249.37 L242.80,249.34 L243.80,249.32 L244.80,249.29 L245.80,249.27 L246.80,249.24 L247.80,249.22 L248.80,249.19 L249.80,249.17 L250.80,249.15 L251.80,249.13 L252.80,249.11 L253.80,249.09 L254.80,249.07 L255.80,249.06 L256.80,249.04 L257.80,249.03 L258.80,249.01 L259.80,249.00 L260.80,248.99 L261.80,248.98 L262.80,248.97 L263.80,248.96 L264.80,248.95 L265.80,248.94" stroke="#ff00ff"/>
<path d="M95.00,243.79 L96.00,243.75 L97.00,243.72 L98.00,243.68 L99.00,243.64 L100.00,243.59 L101.00,243.53 L102.00,243.47 L103.00,243.41 L104.00,243.33 L105.00,243.24 L106.00,243.14 L107.00,243.02 L108.00,242.88 L109.00,242.73 L110.00,242.56 L111.00,242.38 L112.00,242.19 L113.00,241.97 L114.00,241.71 L115.00,241.42 L116.00,241.11 L117.00,240.78 L118.00,240.44 L119.00,240.08 L120.00,239.73 L121.00,239.36 L122.00,238.97 L123.00,238.56 L124.00,238.12 L125.00,237.66 L126.00,237.16 L127.00,236.61 L128.00,236.03 L129.00,235.40 L130.00,234.73 L131.00,234.00 L132.00,233.22 L133.00,232.38 L134.00,231.48 L135.00,230.51 L136.00,229.48 L137.00,228.31 L138.00,226.92 L139.00,225.38 L140.00,223.71 L141.00,221.98 L142.00,220.13 L143.00,218.13 L144.00,215.99 L145.00,213.75 L146.00,211.44 L147.00,208.99 L148.00,206.36 L149.00,203.65 L150.00,200.96 L151.00,198.41 L152.00,195.94 L153.00,193.48 L154.00,191.10 L155.00,188.86 L156.00,186.85 L157.00,184.97 L158.00,183.18 L159.00,181.68 L160.00,180.69 L161.00,179.93 L162.00,179.27 L163.00,178.77 L164.00,178.53 L165.00,178.57 L166.00,178.88 L167.00,179.44 L168.00,180.23 L169.00,181.22 L170.00,182.40 L171.00,183.74 L172.00,185.21 L173.00,186.78 L174.00,188.43 L175.00,190.14 L176.00,191.89 L177.00,193.65 L178.00,195.42 L179.00,197.18 L180.00,198.91 L181.00,200.61 L182.00,202.27 L183.00,203.89 L184.00,205.45 L185.00,206.97 L186.00,208.43 L187.00,209.83 L188.00,211.17 L189.00,212.47 L190.00,213.70 L191.00,214.88 L192.00,216.01 L193.00,217.09 L194.00,218.12 L195.00,219.11 L196.00,220.05 L197.00,220.94 L198.00,221.79 L199.00,222.61 L200.00,223.39 L201.00,224.13 L202.00,224.84 L203.00,225.51 L204.00,226.16 L205.00,226.78 L206.00,227.37 L207.00,227.93 L208.00,228.47 L209.00,228.98 L210.00,229.48 L211.00,229.95 L212.00,230.40 L213.00,230.84 L214.00,231.25 L215.00,231.65 L216.00,232.03 L217.00,232.40 L218.00,232.75 L219.00,233.09 L220.00,233.42 L221.00,233.73 L222.00,234.03 L223.00,234.32 L224.00,234.60 L225.00,234.87 L226.00,235.13 L227.00,235.38 L228.00,235.62 L229.00,235.85 L230.00,236.07 L231.00,236.29 L232.00,236.50 L233.00,236.70 L234.00,236.90 L235.00,237.08 L236.00,237.27 L237.00,237.44 L238.00,237.61 L239.00,237.78 L240.00,237.94 L241.00,238.09 L242.00,238.24 L243.00,238.39 L244.00,238.53 L245.00,238.67 L246.00,238.80 L247.00,238.93 L248.00,239.05 L249.00,239.18 L250.00,239.29 L251.00,239.41 L252.00,239.52 L253.00,239.63 L254.00,239.73 L255.00,239.84 L256.00,239.94 L257.00,240.03 L258.00,240.13 L259.00,240.22 L260.00,240.31 L261.00,240.40 L262.00,240.48 L263.00,240.56 L264.00,240.64 L265.00,240.72 L266.00,240.80" stroke="#008000"/>
<path d="M95.00,244.27 L96.00,244.32 L97.00,244.37 L98.00,244.44 L99.00,244.51 L100.00,244.59 L101.00,244.67 L102.00,244.78 L103.00,244.92 L104.00,245.08 L105.00,245.25 L106.00,245.44 L107.00,245.64 L108.00,245.84 L109.00,246.07 L110.00,246.32 L111.00,246.59 L112.00,246.88 L113.00,247.18 L114.00,247.49 L115.00,247.81 L116.00,248.15 L117.00,248.51 L118.00,248.89 L119.00,249.29 L120.00,249.72 L121.00,250.17 L122.00,250.66 L123.00,251.19 L124.00,251.78 L125.00,252.42 L126.00,253.10 L127.00,253.83 L128.00,254.58 L129.00,255.35 L130.00,256.14 L131.00,256.92 L132.00,257.71 L133.00,258.50 L134.00,259.31 L135.00,260.14 L136.00,260.99 L137.00,261.87 L138.00,262.76 L139.00,263.69 L140.00,264.64 L141.00,265.64 L142.00,266.69 L143.00,267.79 L144.00,268.91 L145.00,270.05 L146.00,271.20 L147.00,272.33 L148.00,273.44 L149.00,274.57 L150.00,275.72 L151.00,276.86 L152.00,277.96 L153.00,279.00 L154.00,279.96 L155.00,280.93 L156.00,281.85 L157.00,282.63 L158.00,283.17 L159.00,283.60 L160.00,283.99 L161.00,284.27 L162.00,284.39 L163.00,284.32 L164.00,284.09 L165.00,283.74 L166.00,283.31 L167.00,282.84 L168.00,282.22 L169.00,281.33 L170.00,280.28 L171.00,279.19 L172.00,278.16 L173.00,277.14 L174.00,276.07 L175.00,275.00 L176.00,273.94 L177.00,272.93 L178.00,271.99 L179.00,271.08 L180.00,270.20 L181.00,269.34 L182.00,268.50 L183.00,267.67 L184.00,266.85 L185.00,266.04 L186.00,265.25 L187.00,264.49 L188.00,263.77 L189.00,263.06 L190.00,262.36 L191.00,261.69 L192.00,261.05 L193.00,260.46 L194.00,259.92 L195.00,259.43 L196.00,258.97 L197.00,258.54 L198.00,258.13 L199.00,257.74 L200.00,257.35 L201.00,256.97 L202.00,256.59 L203.00,256.22 L204.00,255.85 L205.00,255.48 L206.00,255.14 L207.00,254.80 L208.00,254.49 L209.00,254.20 L210.00,253.94 L211.00,253.69 L212.00,253.44 L213.00,253.21 L214.00,252.99 L215.00,252.77 L216.00,252.57 L217.00,252.38 L218.00,252.20 L219.00,252.03 L220.00,251.88 L221.00,251.74 L222.00,251.61 L223.00,251.48 L224.00,251.36 L225.00,251.24 L226.00,251.13 L227.00,251.03 L228.00,250.93 L229.00,250.83 L230.00,250.74 L231.00,250.66 L232.00,250.58 L233.00,250.50 L234.00,250.42 L235.00,250.35 L236.00,250.28 L237.00,250.22 L238.00,250.15 L239.00,250.09 L240.00,250.03 L241.00,249.98 L242.00,249.92 L243.00,249.87 L244.00,249.83 L245.00,249.78 L246.00,249.74 L247.00,249.69 L248.00,249.65 L249.00,249.61 L250.00,249.57 L251.00,249.54 L252.00,249.50 L253.00,249.47 L254.00,249.43 L255.00,249.40 L256.00,249.37 L257.00,249.34 L258.00,249.32 L259.00,249.29 L260.00,249.27 L261.00,249.24 L262.00,249.22 L263.00,249.19 L264.00,249.17 L265.00,249.15 L266.00,249.13" stroke="#008000"/>
<path d="M109.70,243.77 L110.70,243.74 L111.70,243.70 L112.70,243.66 L113.70,243.61 L114.70,243.56 L115.70,243.51 L116.70,243.45 L117.70,243.38 L118.70,243.30 L119.70,243.21 L120.70,243.10 L121.70,242.97 L122.70,242.83 L123.70,242.68 L124.70,242.51 L125.70,242.33 L126.70,242.14 L127.70,241.91 L128.70,241.66 L129.70,241.37 L130.70,241.06 L131.70,240.74 L132.70,240.40 L133.70,240.06 L134.70,239.71 L135.70,239.34 L136.70,238.97 L137.70,238.56 L138.70,238.14 L139.70,237.68 L140.70,237.19 L141.70,236.66 L142.70,236.10 L143.70,235.49 L144.70,234.83 L145.70,234.12 L146.70,233.37 L147.70,232.56 L148.70,231.69 L149.70,230.76 L150.70,229.76 L151.70,228.65 L152.70,227.34 L153.70,225.86 L154.70,224.26 L155.70,222.59 L156.70,220.83 L157.70,218.92 L158.70,216.88 L159.70,214.73 L160.70,212.50 L161.70,210.18 L162.70,207.68 L163.70,205.05 L164.70,202.42 L165.70,199.87 L166.70,197.46 L167.70,195.06 L168.70,192.69 L169.70,190.44 L170.70,188.36 L171.70,186.50 L172.70,184.68 L173.70,183.03 L174.70,181.76 L175.70,180.94 L176.70,180.22 L177.70,179.63 L178.70,179.22 L179.70,179.07 L180.70,179.20 L181.70,179.60 L182.70,180.24 L183.70,181.10 L184.70,182.16 L185.70,183.39 L186.70,184.75 L187.70,186.23 L188.70,187.80 L189.70,189.44 L190.70,191.12 L191.70,192.82 L192.70,194.52 L193.70,196.22 L194.70,197.90 L195.70,199.56 L196.70,201.18 L197.70,202.75 L198.70,204.28 L199.70,205.76 L200.70,207.19 L201.70,208.57 L202.70,209.90 L203.70,211.17 L204.70,212.39 L205.70,213.56 L206.70,214.68 L207.70,215.75 L208.70,216.78 L209.70,217.76 L210.70,218.70 L211.70,219.60 L212.70,220.46 L213.70,221.28 L214.70,222.06 L215.70,222.81 L216.70,223.53 L217.70,224.22 L218.70,224.88 L219.70,225.51 L220.70,226.11 L221.70,226.69 L222.70,227.25 L223.70,227.78 L224.70,228.29 L225.70,228.79 L226.70,229.26 L227.70,229.71 L228.70,230.15 L229.70,230.57 L230.70,230.97 L231.70,231.36 L232.70,231.74 L233.70,232.10 L234.70,232.44 L235.70,232.78 L236.70,233.10 L237.70,233.42 L238.70,233.72 L239.70,234.01 L240.70,234.29 L241.70,234.57 L242.70,234.83 L243.70,235.08 L244.70,235.33 L245.70,235.57 L246.70,235.80 L247.70,236.03 L248.70,236.25 L249.70,236.46 L250.70,236.66 L251.70,236.86 L252.70,237.06 L253.70,237.25 L254.70,237.43 L255.70,237.61 L256.70,237.78 L257.70,237.95 L258.70,238.11 L259.70,238.27 L260.70,238.43 L261.70,238.58 L262.70,238.73 L263.70,238.87 L264.70,239.01 L265.70,239.15" stroke="#000080"/>
<path d="M109.70,244.27 L110.70,244.32 L111.70,244.37 L112.70,244.44 L113.70,244.51 L114.70,244.58 L115.70,244.66 L116.70,244.77 L117.70,244.91 L118.70,245.06 L119.70,245.23 L120.70,245.41 L121.70,245.60 L122.70,245.80 L123.70,246.02 L124.70,246.26 L125.70,246.51 L126.70,246.79 L127.70,247.07 L128.70,247.37 L129.70,247.68 L130.70,248.00 L131.70,248.34 L132.70,248.70 L133.70,249.08 L134.70,249.49 L135.70,249.92 L136.70,250.39 L137.70,250.89 L138.70,251.45 L139.70,252.06 L140.70,252.71 L141.70,253.39 L142.70,254.11 L143.70,254.84 L144.70,255.58 L145.70,256.33 L146.70,257.07 L147.70,257.82 L148.70,258.59 L149.70,259.37 L150.70,260.18 L151.70,261.00 L152.70,261.85 L153.70,262.73 L154.70,263.63 L155.70,264.57 L156.70,265.56 L157.70,266.59 L158.70,267.66 L159.70,268.74 L160.70,269.82 L161.70,270.89 L162.70,271.95 L163.70,273.02 L164.70,274.10 L165.70,275.19 L166.70,276.24 L167.70,277.24 L168.70,278.16 L169.70,279.08 L170.70,279.97 L171.70,280.75 L172.70,281.32 L173.70,281.74 L174.70,282.12 L175.70,282.42 L176.70,282.58 L177.70,282.57 L178.70,282.40 L179.70,282.11 L180.70,281.74 L181.70,281.32 L182.70,280.84 L183.70,280.11 L184.70,279.20 L185.70,278.20 L186.70,277.21 L187.70,276.28 L188.70,275.31 L189.70,274.32 L190.70,273.33 L191.70,272.36 L192.70,271.44 L193.70,270.58 L194.70,269.75 L195.70,268.94 L196.70,268.15 L197.70,267.38 L198.70,266.61 L199.70,265.85 L200.70,265.10 L201.70,264.37 L202.70,263.67 L203.70,262.99 L204.70,262.34 L205.70,261.69 L206.70,261.07 L207.70,260.48 L208.70,259.92 L209.70,259.41 L210.70,258.95 L211.70,258.52 L212.70,258.11 L213.70,257.72 L214.70,257.34 L215.70,256.98 L216.70,256.63 L217.70,256.27 L218.70,255.92 L219.70,255.57 L220.70,255.23 L221.70,254.90 L222.70,254.59 L223.70,254.29 L224.70,254.01 L225.70,253.75 L226.70,253.51 L227.70,253.28 L228.70,253.06 L229.70,252.84 L230.70,252.64 L231.70,252.44 L232.70,252.26 L233.70,252.08 L234.70,251.92 L235.70,251.77 L236.70,251.63 L237.70,251.50 L238.70,251.38 L239.70,251.26 L240.70,251.15 L241.70,251.05 L242.70,250.95 L243.70,250.85 L244.70,250.76 L245.70,250.67 L246.70,250.59 L247.70,250.51 L248.70,250.44 L249.70,250.37 L250.70,250.30 L251.70,250.23 L252.70,250.17 L253.70,250.11 L254.70,250.05 L255.70,249.99 L256.70,249.94 L257.70,249.88 L258.70,249.83 L259.70,249.78 L260.70,249.74 L261.70,249.70 L262.70,249.66 L263.70,249.61 L264.70,249.58 L265.70,249.54" stroke="#000080"/>
<path d="M122.90,243.78 L123.90,243.75 L124.90,243.72 L125.90,243.68 L126.90,243.64 L127.90,243.59 L128.90,243.54 L129.90,243.48 L130.90,243.42 L131.90,243.34 L132.90,243.26 L133.90,243.16 L134.90,243.05 L135.90,242.92 L136.90,242.77 L137.90,242.62 L138.90,242.45 L139.90,242.27 L140.90,242.06 L141.90,241.83 L142.90,241.56 L143.90,241.27 L144.90,240.96 L145.90,240.64 L146.90,240.30 L147.90,239.96 L148.90,239.62 L149.90,239.26 L150.90,238.88 L151.90,238.47 L152.90,238.05 L153.90,237.59 L154.90,237.10 L155.90,236.57 L156.90,236.00 L157.90,235.38 L158.90,234.73 L159.90,234.02 L160.90,233.27 L161.90,232.45 L162.90,231.59 L163.90,230.66 L164.90,229.67 L165.90,228.54 L166.90,227.21 L167.90,225.74 L168.90,224.15 L169.90,222.50 L170.90,220.75 L171.90,218.85 L172.90,216.83 L173.90,214.70 L174.90,212.51 L175.90,210.22 L176.90,207.74 L177.90,205.16 L178.90,202.57 L179.90,200.07 L180.90,197.71 L181.90,195.34 L182.90,193.02 L183.90,190.81 L184.90,188.77 L185.90,186.94 L186.90,185.15 L187.90,183.53 L188.90,182.26 L189.90,181.45 L190.90,180.74 L191.90,180.15 L192.90,179.73 L193.90,179.56 L194.90,179.66 L195.90,180.00 L196.90,180.56 L197.90,181.32 L198.90,182.28 L199.90,183.40 L200.90,184.67 L201.90,186.05 L202.90,187.54 L203.90,189.10 L204.90,190.71 L205.90,192.36 L206.90,194.04 L207.90,195.72 L208.90,197.39 L209.90,199.05 L210.90,200.69 L211.90,202.29 L212.90,203.85 L213.90,205.37 L214.90,206.84 L215.90,208.27 L216.90,209.65 L217.90,210.98 L218.90,212.25 L219.90,213.48 L220.90,214.66 L221.90,215.79 L222.90,216.87 L223.90,217.91 L224.90,218.90 L225.90,219.85 L226.90,220.76 L227.90,221.64 L228.90,222.47 L229.90,223.27 L230.90,224.03 L231.90,224.76 L232.90,225.46 L233.90,226.13 L234.90,226.78 L235.90,227.39 L236.90,227.98 L237.90,228.55 L238.90,229.09 L239.90,229.61 L240.90,230.11 L241.90,230.59 L242.90,231.05 L243.90,231.49 L244.90,231.91 L245.90,232.32 L246.90,232.72 L247.90,233.09 L248.90,233.46 L249.90,233.81 L250.90,234.15 L251.90,234.47 L252.90,234.79 L253.90,235.09 L254.90,235.38 L255.90,235.67 L256.90,235.94 L257.90,236.20 L258.90,236.46 L259.90,236.70 L260.90,236.94 L261.90,237.17 L262.90,237.40 L263.90,237.61 L264.90,237.82 L265.90,238.02" stroke="#8000ff"/>
<path d="M122.90,244.26 L123.90,244.31 L124.90,244.36 L125.90,244.42 L126.90,244.48 L127.90,244.55 L128.90,244.63 L129.90,244.73 L130.90,244.85 L131.90,245.00 L132.90,245.15 L133.90,245.32 L134.90,245.50 L135.90,245.68 L136.90,245.88 L137.90,246.11 L138.90,246.34 L139.90,246.60 L140.90,246.86 L141.90,247.14 L142.90,247.42 L143.90,247.72 L144.90,248.04 L145.90,248.37 L146.90,248.72 L147.90,249.09 L148.90,249.49 L149.90,249.91 L150.90,250.36 L151.90,250.87 L152.90,251.42 L153.90,252.01 L154.90,252.64 L155.90,253.30 L156.90,253.98 L157.90,254.67 L158.90,255.37 L159.90,256.07 L160.90,256.76 L161.90,257.47 L162.90,258.20 L163.90,258.94 L164.90,259.71 L165.90,260.49 L166.90,261.29 L167.90,262.12 L168.90,262.97 L169.90,263.87 L170.90,264.81 L171.90,265.79 L172.90,266.79 L173.90,267.80 L174.90,268.82 L175.90,269.83 L176.90,270.81 L177.90,271.82 L178.90,272.84 L179.90,273.86 L180.90,274.84 L181.90,275.77 L182.90,276.63 L183.90,277.49 L184.90,278.33 L185.90,279.05 L186.90,279.59 L187.90,279.98 L188.90,280.34 L189.90,280.63 L190.90,280.79 L191.90,280.79 L192.90,280.65 L193.90,280.40 L194.90,280.07 L195.90,279.69 L196.90,279.28 L197.90,278.68 L198.90,277.90 L199.90,277.00 L200.90,276.08 L201.90,275.21 L202.90,274.34 L203.90,273.44 L204.90,272.53 L205.90,271.63 L206.90,270.76 L207.90,269.94 L208.90,269.16 L209.90,268.40 L210.90,267.67 L211.90,266.95 L212.90,266.24 L213.90,265.54 L214.90,264.84 L215.90,264.16 L216.90,263.49 L217.90,262.85 L218.90,262.24 L219.90,261.64 L220.90,261.05 L221.90,260.47 L222.90,259.92 L223.90,259.41 L224.90,258.93 L225.90,258.49 L226.90,258.08 L227.90,257.70 L228.90,257.33 L229.90,256.98 L230.90,256.64 L231.90,256.31 L232.90,255.99 L233.90,255.66 L234.90,255.34 L235.90,255.02 L236.90,254.71 L237.90,254.41 L238.90,254.12 L239.90,253.85 L240.90,253.60 L241.90,253.37 L242.90,253.15 L243.90,252.94 L244.90,252.73 L245.90,252.54 L246.90,252.35 L247.90,252.17 L248.90,252.00 L249.90,251.84 L250.90,251.69 L251.90,251.55 L252.90,251.42 L253.90,251.30 L254.90,251.19 L255.90,251.08 L256.90,250.98 L257.90,250.89 L258.90,250.80 L259.90,250.71 L260.90,250.63 L261.90,250.55 L262.90,250.47 L263.90,250.40 L264.90,250.33 L265.90,250.27" stroke="#8000ff"/>
</g>
<g stroke="#000" stroke-width="1.50" fill="none" stroke-linecap="butt">
<rect x="51.05" y="2.60" width="214.75" height="306.50"/>
<line x1="51.05" y1="155.43" x2="265.80" y2="155.43"/>
<line x1="51.05" y1="248.15" x2="265.80" y2="248.15" stroke-width="1.6"/>
<line x1="51.05" y1="120.63" x2="57.55" y2="120.63"/>
<line x1="51.05" y1="85.84" x2="57.55" y2="85.84"/>
<line x1="51.05" y1="51.04" x2="57.55" y2="51.04"/>
<line x1="51.05" y1="16.25" x2="57.55" y2="16.25"/>
<line x1="51.05" y1="279.00" x2="57.55" y2="279.00"/>
<line x1="51.05" y1="217.30" x2="57.55" y2="217.30"/>
<line x1="51.05" y1="186.45" x2="57.55" y2="186.45"/>
<line x1="91.45" y1="155.43" x2="91.45" y2="149.43"/>
<line x1="91.45" y1="309.10" x2="91.45" y2="303.10"/>
<line x1="136.17" y1="155.43" x2="136.17" y2="149.43"/>
<line x1="136.17" y1="309.10" x2="136.17" y2="303.10"/>
<line x1="180.89" y1="155.43" x2="180.89" y2="149.43"/>
<line x1="180.89" y1="309.10" x2="180.89" y2="303.10"/>
<line x1="225.61" y1="155.43" x2="225.61" y2="149.43"/>
<line x1="225.61" y1="309.10" x2="225.61" y2="303.10"/>
</g>
<g font-size="13.1" fill="#000" text-anchor="end">
<text x="47.6" y="159.83">0</text>
<text x="47.6" y="124.53">20</text>
<text x="47.6" y="89.74">40</text>
<text x="47.6" y="54.94">60</text>
<text x="47.6" y="20.15">80</text>
<text x="47.6" y="282.80">-50</text>
<text x="47.6" y="251.95">0</text>
<text x="47.6" y="221.10">50</text>
<text x="47.6" y="190.25">100</text>
</g>
<g font-size="13.1" fill="#000" text-anchor="middle">
<text x="91.45" y="325.9">6</text>
<text x="136.17" y="325.9">7</text>
<text x="180.89" y="325.9">8</text>
<text x="225.61" y="325.9">9</text>
</g>
<text x="158.0" y="345" font-size="14.9" text-anchor="middle" fill="#000">Frequency (GHz)</text>
<text transform="translate(18.2,82.0) rotate(-90)" font-size="14.5" fill="#000">µ<tspan dy="-0.7" font-size="15.5">''</tspan></text>
<text transform="translate(16.8,235.5) rotate(-90)" font-size="14.5" fill="#000">µ<tspan dy="-0.7" font-size="15.5">''</tspan></text>
<g font-size="9.6" fill="#000">
<line x1="54.20" y1="12.50" x2="78.20" y2="12.50" stroke="#000000" stroke-width="1.4"/>
<text x="80.70" y="15.80">0 Oe</text>
<line x1="114.60" y1="12.50" x2="138.70" y2="12.50" stroke="#ff0000" stroke-width="1.4"/>
<text x="141.10" y="15.80">40 Oe</text>
<line x1="175.00" y1="12.50" x2="199.00" y2="12.50" stroke="#0000ff" stroke-width="1.4"/>
<text x="201.70" y="15.80">80 Oe</text>
<line x1="54.20" y1="25.10" x2="78.20" y2="25.10" stroke="#ff00ff" stroke-width="1.4"/>
<text x="80.70" y="28.40">120 Oe</text>
<line x1="114.60" y1="25.10" x2="138.70" y2="25.10" stroke="#008000" stroke-width="1.4"/>
<text x="141.10" y="28.40">160 Oe</text>
<line x1="175.00" y1="25.10" x2="199.00" y2="25.10" stroke="#000080" stroke-width="1.4"/>
<text x="201.70" y="28.40">200 Oe</text>
<line x1="54.20" y1="37.70" x2="78.20" y2="37.70" stroke="#8000ff" stroke-width="1.4"/>
<text x="80.70" y="41.00">240 Oe</text>
</g>
<text x="243.8" y="22.2" font-size="13.6" fill="#000">(a)</text>
<text x="151.60" y="49.00" font-size="12.4" fill="#0000ff">Fe<tspan font-size="7.3" dy="4.9">20</tspan><tspan dy="-4.9" dx="-0.5">Ni</tspan><tspan font-size="7.3" dy="4.9">80</tspan><tspan dy="-4.9" dx="-0.5">/Co bilayer</tspan></text>
<text x="202.2" y="176.7" font-size="12.3" fill="#000">Co layer</text>
<text x="181.20" y="297.50" font-size="12.4" fill="#ff0000">Fe<tspan font-size="8.3" dy="4.4">20</tspan><tspan dy="-4.4" dx="0.0">Ni</tspan><tspan font-size="8.3" dy="4.4">80</tspan><tspan dy="-4.4" dx="0.0"> layer</tspan></text>
<g stroke="#000" stroke-width="1.50" fill="none">
<line x1="274.55" y1="2.60" x2="490.85" y2="2.60"/>
<line x1="274.55" y1="309.00" x2="490.85" y2="309.00"/>
<line x1="275.30" y1="2.60" x2="275.30" y2="214.20"/>
<line x1="275.30" y1="219.60" x2="275.30" y2="309.00"/>
<line x1="490.10" y1="2.60" x2="490.10" y2="214.20"/>
<line x1="490.10" y1="219.60" x2="490.10" y2="309.00"/>
<line x1="275.30" y1="216.90" x2="490.10" y2="216.90"/>
<line x1="268.90" y1="217.10" x2="281.70" y2="211.30" stroke-width="1.3"/>
<line x1="268.90" y1="222.50" x2="281.70" y2="216.70" stroke-width="1.3"/>
<line x1="483.70" y1="217.10" x2="496.50" y2="211.30" stroke-width="1.3"/>
<line x1="483.70" y1="222.50" x2="496.50" y2="216.70" stroke-width="1.3"/>
<line x1="275.30" y1="184.90" x2="282.10" y2="184.90"/>
<line x1="490.10" y1="184.90" x2="483.30" y2="184.90"/>
<line x1="275.30" y1="146.40" x2="282.10" y2="146.40"/>
<line x1="490.10" y1="146.40" x2="483.30" y2="146.40"/>
<line x1="275.30" y1="107.90" x2="282.10" y2="107.90"/>
<line x1="490.10" y1="107.90" x2="483.30" y2="107.90"/>
<line x1="275.30" y1="69.40" x2="282.10" y2="69.40"/>
<line x1="490.10" y1="69.40" x2="483.30" y2="69.40"/>
<line x1="275.30" y1="30.90" x2="282.10" y2="30.90"/>
<line x1="490.10" y1="30.90" x2="483.30" y2="30.90"/>
<line x1="275.30" y1="234.55" x2="282.10" y2="234.55"/>
<line x1="490.10" y1="234.55" x2="483.30" y2="234.55"/>
<line x1="275.30" y1="271.60" x2="282.10" y2="271.60"/>
<line x1="490.10" y1="271.60" x2="483.30" y2="271.60"/>
<line x1="287.60" y1="309.00" x2="287.60" y2="303.00"/>
<line x1="328.34" y1="309.00" x2="328.34" y2="303.00"/>
<line x1="369.08" y1="309.00" x2="369.08" y2="303.00"/>
<line x1="409.82" y1="309.00" x2="409.82" y2="303.00"/>
<line x1="450.56" y1="309.00" x2="450.56" y2="303.00"/>
</g>
<g font-size="12.3" fill="#000">
<text x="496.0" y="188.90">40</text>
<text x="496.0" y="150.40">60</text>
<text x="496.0" y="111.90">80</text>
<text x="496.0" y="73.40">100</text>
<text x="496.0" y="34.90">120</text>
<text x="496.0" y="238.55">-40</text>
<text x="496.0" y="275.60">-60</text>
<text x="496.0" y="312.65">-80</text>
</g>
<g font-size="12.2" fill="#000" text-anchor="middle">
<text x="287.90" y="324.5">0</text>
<text x="328.64" y="324.5">50</text>
<text x="369.38" y="324.5">100</text>
<text x="410.12" y="324.5">150</text>
<text x="450.86" y="324.5">200</text>
</g>
<text x="382.7" y="345" font-size="14.5" text-anchor="middle" fill="#000">H (Oe)</text>
<text transform="translate(535.3,172.0) rotate(-90)" font-size="14.5" fill="#000">µ<tspan dy="-0.7" font-size="15.5">''</tspan><tspan font-size="10.5" dy="6.1">max</tspan></text>
<text x="462.6" y="21.9" font-size="13.4" fill="#000">(b)</text>
<path d="M287.60,39.60 L320.19,41.10 L352.78,42.70 L385.38,44.20 L417.97,46.20 L450.56,48.00 L483.15,49.10" stroke="#000" stroke-width="2" fill="none"/>
<rect x="283.60" y="35.60" width="8" height="8" fill="#fff" stroke="#000" stroke-width="1"/>
<rect x="316.19" y="37.10" width="8" height="8" fill="#fff" stroke="#000" stroke-width="1"/>
<rect x="348.78" y="38.70" width="8" height="8" fill="#fff" stroke="#000" stroke-width="1"/>
<rect x="381.38" y="40.20" width="8" height="8" fill="#fff" stroke="#000" stroke-width="1"/>
<rect x="413.97" y="42.20" width="8" height="8" fill="#fff" stroke="#000" stroke-width="1"/>
<rect x="446.56" y="44.00" width="8" height="8" fill="#fff" stroke="#000" stroke-width="1"/>
<rect x="479.15" y="45.10" width="8" height="8" fill="#fff" stroke="#000" stroke-width="1"/>
<path d="M287.60,178.50 L320.19,172.30 L352.78,167.00 L385.38,162.40 L417.97,158.00 L450.56,153.60 L483.15,150.50" stroke="#0000ff" stroke-width="2" fill="none"/>
<path d="M287.60,171.70 L294.40,178.50 L287.60,185.30 L280.80,178.50 Z" fill="#0000ff"/>
<path d="M320.19,165.50 L326.99,172.30 L320.19,179.10 L313.39,172.30 Z" fill="#0000ff"/>
<path d="M352.78,160.20 L359.58,167.00 L352.78,173.80 L345.98,167.00 Z" fill="#0000ff"/>
<path d="M385.38,155.60 L392.18,162.40 L385.38,169.20 L378.58,162.40 Z" fill="#0000ff"/>
<path d="M417.97,151.20 L424.77,158.00 L417.97,164.80 L411.17,158.00 Z" fill="#0000ff"/>
<path d="M450.56,146.80 L457.36,153.60 L450.56,160.40 L443.76,153.60 Z" fill="#0000ff"/>
<path d="M483.15,143.70 L489.95,150.50 L483.15,157.30 L476.35,150.50 Z" fill="#0000ff"/>
<path d="M287.60,296.60 L320.19,289.60 L352.78,282.30 L385.38,275.50 L417.97,269.30 L450.56,263.80 L483.15,258.70" stroke="#ff0000" stroke-width="2" fill="none"/>
<circle cx="287.60" cy="296.60" r="4.5" fill="#fff" stroke="#ff0000" stroke-width="1.1"/>
<circle cx="320.19" cy="289.60" r="4.5" fill="#fff" stroke="#ff0000" stroke-width="1.1"/>
<circle cx="352.78" cy="282.30" r="4.5" fill="#fff" stroke="#ff0000" stroke-width="1.1"/>
<circle cx="385.38" cy="275.50" r="4.5" fill="#fff" stroke="#ff0000" stroke-width="1.1"/>
<circle cx="417.97" cy="269.30" r="4.5" fill="#fff" stroke="#ff0000" stroke-width="1.1"/>
<circle cx="450.56" cy="263.80" r="4.5" fill="#fff" stroke="#ff0000" stroke-width="1.1"/>
<circle cx="483.15" cy="258.70" r="4.5" fill="#fff" stroke="#ff0000" stroke-width="1.1"/>
<text x="327.8" y="36.2" font-size="12.3" fill="#000">Co layer</text>
<text x="304.10" y="151.40" font-size="12.4" fill="#0000ff">Fe<tspan font-size="7.3" dy="4.9">20</tspan><tspan dy="-4.9" dx="-0.5">Ni</tspan><tspan font-size="7.3" dy="4.9">80</tspan><tspan dy="-4.9" dx="-0.5">/Co bilayer</tspan></text>
<text x="307.00" y="262.50" font-size="12.4" fill="#ff0000">Fe<tspan font-size="8.3" dy="4.4">20</tspan><tspan dy="-4.4" dx="0.0">Ni</tspan><tspan font-size="8.3" dy="4.4">80</tspan><tspan dy="-4.4" dx="0.0"> layer</tspan></text>
</svg>
</body></html>
